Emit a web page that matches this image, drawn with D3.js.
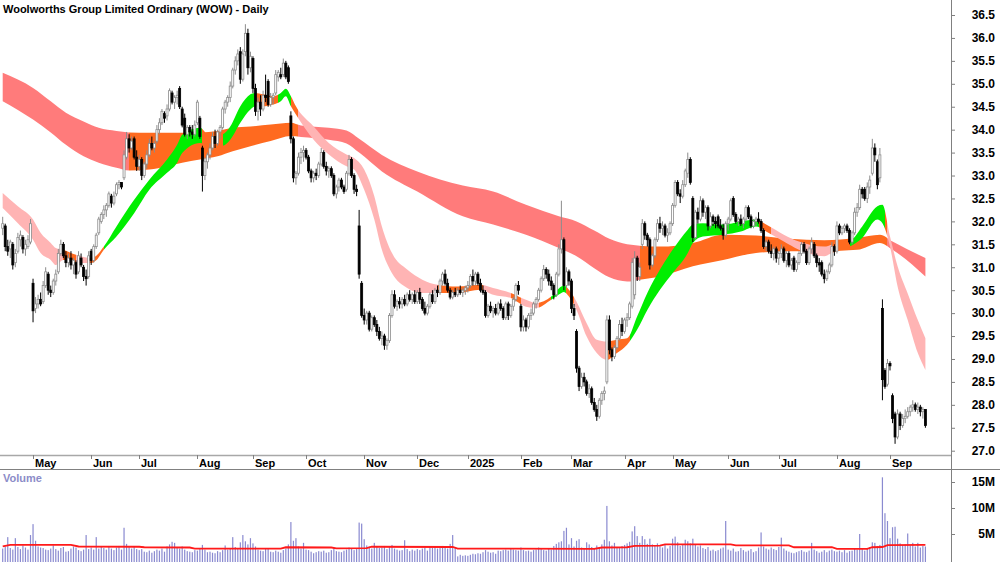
<!DOCTYPE html>
<html lang="en">
<head>
    <meta charset="UTF-8">
    <title>WOW Daily</title>
    <script src="https://d3js.org/d3.v7.min.js"></script>
    <style>
        body { margin: 0; background: #fff; }
        svg { display: block; font-family: "Liberation Sans", Arial, sans-serif; }
    </style>
    <script>
        // calendar of trading days shown
        const FIRST_DAY = "2024-04-12";
        const LAST_DAY = "2025-09-19";
        const HOLIDAYS = ["2024-04-25", "2024-06-10", "2024-12-25", "2024-12-26", "2025-01-01",
            "2025-01-27", "2025-04-18", "2025-04-21", "2025-04-25", "2025-06-09"];

        const MONTH_KEYS = ["2024-05", "2024-06", "2024-07", "2024-08", "2024-09", "2024-10", "2024-11", "2024-12",
            "2025-01", "2025-02", "2025-03", "2025-04", "2025-05", "2025-06", "2025-07", "2025-08", "2025-09"];
        const MONTH_LABELS = ["May", "Jun", "Jul", "Aug", "Sep", "Oct", "Nov", "Dec",
            "2025", "Feb", "Mar", "Apr", "May", "Jun", "Jul", "Aug", "Sep"];

        const PRICE_TICKS = [27.0, 27.5, 28.0, 28.5, 29.0, 29.5, 30.0, 30.5, 31.0, 31.5, 32.0, 32.5,
            33.0, 33.5, 34.0, 34.5, 35.0, 35.5, 36.0, 36.5];
        const VOL_TICKS = [5, 10, 15];
        const VOL_TICK_LABELS = ["5M", "10M", "15M"];

        // daily open, high, low, close
        const OHLC = [
            // Apr 2024
            [31.85,32.1,31.7,31.95],[31.9,31.95,31.35,31.45],[31.45,31.6,31.25,31.35],[31.4,31.6,31.2,31.55],[31.5,31.55,30.95,31.05],[31.1,31.4,31.0,31.3],[31.35,31.75,31.3,31.65],[31.6,31.8,31.45,31.7],[31.65,31.7,31.3,31.4],[31.4,31.6,31.25,31.5],[31.45,31.7,31.4,31.6],[31.55,32.05,31.5,31.95],
            // May
            [30.65,30.75,29.8,30.05],[30.1,30.35,30.0,30.2],[30.2,30.4,30.1,30.3],[30.3,30.45,30.15,30.2],[30.25,30.7,30.2,30.6],[30.6,31.0,30.55,30.9],[30.85,30.9,30.4,30.5],[30.5,30.6,30.35,30.45],[30.45,30.75,30.4,30.7],[30.7,30.95,30.6,30.85],[30.9,31.4,30.85,31.3],[31.3,31.6,31.25,31.5],[31.5,31.55,31.2,31.25],[31.25,31.35,31.0,31.1],[31.1,31.3,31.0,31.2],[31.2,31.35,30.95,31.05],[31.05,31.2,30.85,31.15],[31.1,31.15,30.75,30.85],[30.9,31.35,30.85,31.25],[31.2,31.3,31.0,31.05],[31.0,31.05,30.7,30.8],[30.8,30.95,30.6,30.75],[30.8,31.35,30.75,31.25],
            // Jun
            [31.35,31.4,31.05,31.15],[31.15,31.5,31.1,31.45],[31.45,31.75,31.4,31.7],[31.75,32.1,31.7,32.05],[32.0,32.2,31.95,32.15],[32.15,32.35,32.05,32.25],[32.25,32.4,32.1,32.35],[32.35,32.65,32.3,32.6],[32.55,32.6,32.3,32.4],[32.4,32.65,32.35,32.55],[32.6,32.85,32.55,32.8],[32.8,32.9,32.7,32.85],[32.85,32.85,32.7,32.75],[32.95,33.55,32.9,33.45],[33.4,33.95,33.35,33.8],[33.8,33.9,33.5,33.6],[33.6,33.85,33.55,33.75],[33.8,33.85,33.35,33.4],[33.4,33.55,33.1,33.2],
            // Jul
            [33.2,33.45,33.1,33.35],[33.35,33.4,32.9,33.0],[33.0,33.3,32.95,33.25],[33.25,33.55,33.15,33.45],[33.45,33.8,33.4,33.7],[33.7,33.85,33.55,33.6],[33.6,33.75,33.5,33.7],[33.75,34.1,33.7,34.0],[34.0,34.25,33.9,34.15],[34.15,34.45,34.1,34.4],[34.35,34.4,34.15,34.25],[34.3,34.55,34.2,34.45],[34.45,34.9,34.4,34.85],[34.8,34.85,34.55,34.6],[34.6,34.75,34.45,34.7],[34.7,34.85,34.55,34.75],[34.9,34.95,34.45,34.5],[34.45,34.5,34.05,34.1],[34.25,34.35,33.85,33.9],[33.9,34.1,33.8,34.05],[34.05,34.1,33.85,33.95],[33.95,34.1,33.8,33.9],[33.9,34.2,33.85,34.1],
            // Aug
            [34.15,34.65,34.1,34.6],[34.25,34.3,33.8,33.85],[33.6,33.65,32.65,33.0],[33.0,33.4,32.9,33.3],[33.3,33.5,33.15,33.45],[33.45,33.7,33.35,33.6],[33.6,33.95,33.55,33.85],[33.85,34.0,33.6,33.7],[33.7,34.0,33.65,33.95],[33.95,34.1,33.8,34.05],[34.05,34.5,34.0,34.45],[34.45,34.65,34.35,34.6],[34.6,34.75,34.5,34.7],[34.7,35.05,34.6,34.95],[34.95,35.35,34.9,35.3],[35.3,35.6,35.2,35.5],[35.5,35.75,35.4,35.65],[35.7,35.8,35.0,35.1],[35.1,35.75,35.05,35.65],[35.7,36.3,35.6,36.1],[36.1,36.2,35.2,35.35],[35.35,35.7,35.25,35.6],
            // Sep
            [35.55,35.6,34.8,34.9],[34.9,35.0,34.3,34.4],[34.4,34.7,34.2,34.6],[34.6,34.75,34.3,34.45],[34.45,34.85,34.4,34.75],[34.75,35.2,34.6,34.7],[35.05,35.1,34.5,34.55],[34.55,34.8,34.5,34.7],[34.7,34.8,34.55,34.75],[34.8,35.3,34.75,35.2],[35.15,35.3,35.05,35.25],[35.2,35.35,35.1,35.15],[35.2,35.55,35.15,35.45],[35.45,35.5,35.1,35.15],[35.35,35.4,35.0,35.05],[34.3,34.4,33.7,33.8],[33.8,33.85,32.85,32.95],[32.95,33.1,32.8,33.05],[33.05,33.5,33.0,33.4],[33.4,33.6,33.25,33.5],[33.5,33.65,33.3,33.55],
            // Oct
            [33.55,33.6,33.35,33.4],[33.4,33.45,33.05,33.1],[33.1,33.15,32.85,32.95],[32.95,33.1,32.85,33.05],[33.05,33.15,32.9,33.0],[33.0,33.3,32.95,33.25],[33.25,33.6,33.2,33.5],[33.5,33.55,33.15,33.2],[33.2,33.3,33.0,33.1],[33.1,33.2,32.95,33.15],[33.15,33.2,32.95,33.0],[33.0,33.05,32.55,32.6],[32.6,32.8,32.5,32.75],[32.75,32.95,32.65,32.9],[32.9,32.95,32.7,32.75],[32.75,32.8,32.6,32.65],[32.7,33.1,32.65,33.05],[33.05,33.45,33.0,33.35],[33.35,33.4,32.95,33.0],[33.0,33.05,32.6,32.7],[32.7,32.8,32.55,32.65],[31.9,32.25,30.75,30.85],[30.65,30.7,29.9,29.95],
            // Nov
            [29.95,30.1,29.75,29.85],[29.85,30.05,29.75,30.0],[30.0,30.05,29.6,29.65],[29.65,29.95,29.6,29.9],[29.9,29.95,29.7,29.75],[29.75,29.85,29.5,29.6],[29.6,29.7,29.4,29.45],[29.45,29.6,29.3,29.5],[29.5,29.55,29.2,29.3],[29.3,29.45,29.2,29.4],[29.4,30.0,29.35,29.95],[29.95,30.5,29.9,30.4],[30.4,30.5,30.1,30.15],[30.15,30.3,30.05,30.25],[30.25,30.35,30.1,30.2],[30.2,30.35,30.1,30.3],[30.3,30.4,30.15,30.2],[30.2,30.45,30.15,30.4],[30.4,30.5,30.25,30.3],[30.3,30.45,30.2,30.4],[30.4,30.5,30.2,30.25],
            // Dec
            [30.25,30.5,30.2,30.45],[30.45,30.55,30.2,30.3],[30.3,30.35,30.05,30.1],[30.1,30.25,29.95,30.0],[30.0,30.2,29.95,30.15],[30.15,30.45,30.1,30.4],[30.4,30.5,30.2,30.25],[30.25,30.55,30.2,30.5],[30.5,30.6,30.35,30.45],[30.45,30.75,30.4,30.7],[30.7,30.9,30.6,30.85],[30.85,30.95,30.6,30.65],[30.65,30.75,30.45,30.5],[30.5,30.55,30.3,30.35],[30.35,30.5,30.3,30.45],[30.45,30.55,30.35,30.4],[30.4,30.55,30.35,30.5],[30.5,30.6,30.4,30.45],[30.45,30.55,30.35,30.5],[30.5,30.6,30.4,30.55],
            // Jan 2025
            [30.55,30.7,30.45,30.6],[30.6,30.85,30.55,30.8],[30.8,30.95,30.6,30.7],[30.7,30.9,30.6,30.85],[30.85,30.9,30.6,30.65],[30.65,30.75,30.45,30.5],[30.5,30.6,30.4,30.45],[30.45,30.5,29.9,29.95],[29.95,30.2,29.9,30.15],[30.15,30.25,30.0,30.05],[30.05,30.15,29.9,30.1],[30.1,30.2,29.95,30.0],[30.0,30.25,29.95,30.2],[30.2,30.3,30.05,30.1],[30.1,30.15,29.85,29.9],[29.9,30.25,29.85,30.2],[30.2,30.25,29.85,29.95],[29.95,30.2,29.9,30.15],[30.15,30.35,30.05,30.3],[30.3,30.65,30.25,30.6],[30.6,30.7,30.4,30.5],
            // Feb
            [30.15,30.2,29.6,29.7],[29.7,29.95,29.6,29.85],[29.85,29.9,29.6,29.7],[29.7,30.0,29.65,29.95],[29.95,30.1,29.85,30.0],[30.0,30.25,29.95,30.2],[30.2,30.35,30.1,30.3],[30.3,30.55,30.25,30.5],[30.5,30.8,30.45,30.75],[30.75,31.05,30.7,30.95],[30.95,31.0,30.75,30.85],[30.85,30.95,30.6,30.7],[30.7,30.8,30.5,30.6],[30.6,30.65,30.3,30.4],[30.4,30.9,30.35,30.85],[30.85,31.5,30.8,31.4],[31.4,32.45,31.3,31.6],[31.6,31.65,30.5,30.6],[30.6,31.0,30.55,30.9],[30.9,30.95,30.6,30.7],
            // Mar
            [30.7,30.75,30.0,30.1],[30.1,30.2,29.85,29.95],[29.6,29.65,28.7,28.8],[28.8,28.85,28.3,28.4],[28.4,28.7,28.35,28.6],[28.6,28.7,28.4,28.5],[28.5,28.55,28.2,28.25],[28.25,28.45,28.15,28.35],[28.35,28.4,28.0,28.05],[28.05,28.15,27.85,27.9],[27.9,28.0,27.65,27.75],[27.75,28.15,27.7,28.1],[28.1,28.3,28.0,28.25],[28.25,28.4,28.1,28.3],[28.5,29.95,28.45,29.85],[29.85,29.95,29.1,29.2],[29.2,29.25,28.95,29.05],[29.05,29.3,29.0,29.25],[29.25,29.5,29.2,29.45],[29.45,29.85,29.4,29.75],[29.75,29.9,29.5,29.6],
            // Apr
            [29.6,29.9,29.55,29.85],[29.85,30.0,29.7,29.9],[29.9,30.25,29.85,30.2],[30.15,31.2,30.1,31.1],[30.4,31.35,30.3,31.2],[31.2,31.25,30.7,30.8],[30.8,31.1,30.7,31.0],[31.5,32.05,31.4,31.95],[31.95,32.0,31.6,31.7],[31.7,31.75,31.45,31.6],[31.6,31.65,30.95,31.05],[31.05,31.3,31.0,31.25],[31.25,31.65,31.2,31.6],[31.6,32.05,31.55,31.95],[31.95,32.1,31.75,31.85],[31.85,32.0,31.7,31.9],[31.9,31.95,31.65,31.7],[31.7,31.85,31.55,31.75],[31.75,32.0,31.7,31.95],
            // May
            [31.95,32.4,31.9,32.35],[32.35,32.9,32.3,32.85],[32.85,32.9,32.55,32.6],[32.6,32.7,32.4,32.55],[32.55,32.9,32.5,32.8],[32.8,33.15,32.75,33.1],[33.05,33.5,32.95,33.35],[33.35,33.4,32.8,32.85],[32.5,32.55,31.55,31.65],[31.65,32.25,31.6,32.2],[32.2,32.3,31.95,32.05],[32.05,32.55,32.0,32.45],[32.45,32.5,32.1,32.2],[32.2,32.35,32.05,32.3],[32.3,32.35,31.8,31.9],[31.9,32.2,31.85,32.1],[32.1,32.15,31.9,32.0],[32.0,32.1,31.85,31.95],[32.1,32.15,31.85,31.9],[31.9,32.05,31.8,31.85],[31.85,31.95,31.6,31.7],[31.7,32.0,31.65,31.95],
            // Jun
            [31.95,32.1,31.8,32.05],[32.05,32.5,32.0,32.45],[32.5,32.55,32.1,32.15],[32.15,32.2,31.95,32.0],[32.0,32.1,31.9,32.05],[32.05,32.15,31.9,31.95],[31.95,32.1,31.85,32.05],[32.05,32.35,32.0,32.3],[32.3,32.35,32.05,32.1],[32.1,32.15,31.85,31.9],[31.9,32.05,31.85,32.0],[32.0,32.1,31.9,32.05],[32.05,32.2,31.95,32.0],[32.0,32.05,31.75,31.8],[31.8,31.85,31.4,31.45],[31.45,31.6,31.35,31.55],[31.55,31.6,31.3,31.35],[31.35,31.5,31.2,31.3],[31.3,31.45,31.15,31.4],[31.4,31.45,31.1,31.2],
            // Jul
            [31.2,31.35,31.05,31.3],[31.3,31.5,31.2,31.4],[31.4,31.45,31.1,31.15],[31.15,31.35,31.0,31.3],[31.3,31.35,31.0,31.05],[31.05,31.2,30.95,31.15],[31.2,31.25,30.9,30.95],[30.95,31.15,30.9,31.1],[31.1,31.35,31.05,31.3],[31.3,31.55,31.25,31.5],[31.5,31.55,31.3,31.35],[31.35,31.4,31.05,31.1],[31.1,31.45,31.05,31.4],[31.4,31.65,31.3,31.55],[31.5,31.55,31.2,31.25],[31.25,31.3,31.0,31.1],[31.1,31.2,30.9,31.05],[31.1,31.15,30.8,30.85],[30.85,30.95,30.65,30.75],[30.75,30.95,30.7,30.9],[30.9,31.1,30.85,31.05],[31.05,31.55,31.0,31.45],[31.45,31.5,31.25,31.35],
            // Aug
            [31.35,32.0,31.3,31.9],[31.9,31.95,31.7,31.75],[31.75,31.9,31.7,31.85],[31.85,31.95,31.75,31.9],[31.9,31.95,31.75,31.8],[31.8,31.85,31.5,31.55],[31.55,31.8,31.5,31.75],[31.75,32.3,31.7,32.2],[32.2,32.4,32.1,32.3],[32.3,32.8,32.25,32.7],[32.7,32.75,32.5,32.6],[32.7,32.75,32.45,32.5],[32.5,32.85,32.4,32.75],[32.75,33.0,32.6,32.9],[33.05,33.8,33.0,33.6],[33.6,33.7,33.3,33.45],[33.3,33.35,32.7,32.8],[32.95,33.6,32.85,33.45],[30.1,30.3,28.1,28.55],[28.75,28.8,28.35,28.4],[28.45,29.0,28.4,28.9],
            // Sep
            [28.9,28.95,28.75,28.85],[28.2,28.25,27.6,27.7],[27.8,27.85,27.15,27.3],[27.3,27.9,27.25,27.8],[27.8,27.85,27.45,27.55],[27.55,27.8,27.5,27.7],[27.7,27.9,27.6,27.75],[27.75,27.95,27.7,27.85],[27.85,28.0,27.75,27.95],[27.95,28.1,27.85,28.0],[28.0,28.05,27.85,27.9],[27.9,28.05,27.8,27.95],[27.95,28.0,27.75,27.85],[27.85,27.95,27.7,27.9],[27.9,27.9,27.5,27.55]
        ];

        // daily volume, millions
        const VOLUME = [
            2.2,2.6,4.4,2.3,2.0,4.2,2.5,2.1,2.8,2.4,2.0,4.8,
            6.9,3.7,2.6,2.4,2.3,2.0,1.9,2.2,2.8,2.1,1.8,2.3,2.5,1.6,1.7,2.2,2.6,2.4,1.9,1.7,2.0,4.8,2.1,
            2.4,2.0,4.4,2.2,2.5,2.3,2.0,2.6,2.2,1.9,2.4,2.7,2.0,6.2,3.1,2.6,2.2,2.5,2.1,
            1.9,2.1,1.6,1.5,1.8,1.4,1.7,2.0,1.8,2.2,1.6,2.6,3.0,3.5,3.3,2.4,2.2,2.6,2.0,1.7,1.6,1.5,1.9,
            1.8,2.2,2.9,2.0,1.5,1.6,1.4,1.3,1.7,1.5,1.9,2.8,2.0,2.3,4.4,2.5,2.2,3.4,4.8,3.6,3.0,4.2,
            3.2,2.6,2.0,1.8,1.7,2.1,2.3,1.6,1.5,1.8,1.6,1.4,1.9,2.2,3.0,7.3,3.7,4.2,2.6,2.2,3.3,
            2.0,1.9,1.6,1.3,1.5,1.7,1.6,1.8,1.4,1.5,1.9,2.3,1.7,1.6,1.5,1.8,2.0,2.4,2.2,1.9,2.1,7.2,7.0,
            4.0,2.8,2.6,2.2,3.3,2.5,2.3,2.4,2.7,2.1,2.6,2.9,2.2,2.0,1.8,1.9,3.8,2.1,1.7,2.0,1.8,
            2.1,1.9,2.2,2.4,1.8,2.5,2.3,2.6,2.2,2.4,2.7,2.5,2.2,3.1,4.8,2.4,0.7,1.0,0.8,0.9,
            0.8,1.0,1.2,1.1,1.3,1.2,1.5,1.9,1.6,1.4,1.5,1.2,1.8,1.7,1.9,2.0,1.8,2.1,2.0,1.9,1.8,
            2.4,1.9,1.7,1.8,1.6,1.9,2.0,2.4,2.1,1.9,1.8,2.3,2.0,2.7,3.1,3.4,3.6,5.6,6.2,3.0,
            4.2,2.6,3.7,4.0,2.4,2.2,3.4,3.0,2.5,2.3,2.8,2.4,3.0,3.9,10.4,3.6,2.8,3.3,2.5,2.3,2.7,
            2.9,3.2,3.5,5.5,6.5,4.6,3.3,4.6,4.0,3.1,4.1,3.0,2.8,3.2,2.6,2.4,2.9,2.2,2.7,
            4.1,4.5,3.4,2.7,3.0,3.9,3.6,3.2,4.1,3.0,2.6,2.8,2.3,2.1,2.5,1.8,2.0,1.7,1.9,2.2,2.4,7.5,
            2.0,1.8,2.2,1.6,1.7,2.3,1.9,1.6,1.8,2.1,1.5,1.7,2.4,5.3,2.6,2.2,2.0,2.4,2.1,1.9,
            2.5,4.3,2.2,1.8,1.6,1.4,1.3,1.5,1.7,1.9,1.6,1.5,1.8,3.3,2.0,1.7,1.4,1.6,1.9,1.5,1.8,2.0,1.7,
            1.6,1.8,1.5,1.9,1.4,1.7,1.8,2.2,2.0,5.0,2.1,1.8,2.3,2.5,3.4,3.3,2.7,2.9,15.9,9.0,7.5,
            4.2,6.3,6.4,4.1,3.2,2.9,3.0,5.1,2.8,3.3,2.6,3.3,2.4,2.7,2.6
        ];

        // volume average line, read at bar positions
        const VOL_AVG_BAR = [0, 3, 27, 30, 54, 56, 74, 76, 110, 112, 130, 132, 144, 146, 178, 180, 234, 237,
            247, 250, 260, 262, 288, 290, 311, 313, 328, 330, 342, 344, 348, 350, 365];
        const VOL_AVG = [2.6, 2.9, 2.9, 2.6, 2.55, 2.45, 2.4, 2.2, 2.2, 2.45, 2.4, 2.25, 2.3, 2.55, 2.5, 2.2, 2.15, 2.4,
            2.45, 2.7, 2.75, 3.0, 3.0, 2.8, 2.8, 2.45, 2.45, 2.15, 2.15, 2.45, 2.5, 2.85, 2.9];

        // long-term moving average band, edges read at bar positions
        const LONG_BAR = [0, 12, 19, 25, 32, 38, 45, 50, 58, 65, 71, 78, 85, 91, 98, 106, 114, 118, 129, 136,
            141, 150, 164, 182, 194, 207, 220, 227, 234, 240, 247, 252, 260, 273, 285, 298, 311, 325, 338, 347, 352, 365];
        const LONG_HI = [35.24, 34.91, 34.62, 34.37, 34.18, 34.04, 33.97, 33.94, 33.93, 33.93, 33.93, 33.94, 33.97, 34.04, 34.07, 34.11, 34.15, 34.09, 34.04, 33.98,
            33.8, 33.45, 33.09, 32.78, 32.65, 32.36, 32.11, 32.0, 31.8, 31.62, 31.5, 31.47, 31.45, 31.53, 31.71, 31.69, 31.62, 31.59, 31.64, 31.71, 31.56, 31.2];
        const LONG_LO = [34.62, 34.22, 33.94, 33.67, 33.42, 33.28, 33.17, 33.11, 33.13, 33.2, 33.28, 33.35, 33.42, 33.53, 33.64, 33.75, 33.86, 33.84, 33.78, 33.7,
            33.5, 33.09, 32.65, 32.11, 31.93, 31.71, 31.42, 31.24, 30.98, 30.78, 30.69, 30.73, 30.8, 31.02, 31.16, 31.31, 31.35, 31.35, 31.38, 31.53, 31.38, 30.8];
        const LONG_STATE_FROM = [0, 50, 117, 252, 350];
        const LONG_STATE = ["down", "mixed", "down", "mixed", "down"];

        // short-term moving average band
        const SHORT_BAR = [0, 6, 12, 15, 19, 21, 24, 27, 29, 35, 37, 40, 45, 52, 58, 65, 69, 71, 78, 82,
            87, 90, 94, 98, 100, 103, 107, 110, 112, 114, 116, 123, 129, 136, 139, 143, 147, 150, 154, 160,
            166, 172, 180, 189, 194, 201, 207, 211, 217, 221, 222, 224, 227, 231, 235, 239, 243, 247, 251, 255,
            260, 265, 271, 273, 277, 285, 292, 298, 302, 309, 315, 325, 328, 335, 340, 346, 348, 351, 354, 358, 362, 365];
        const SHORT_HI = [32.62, 32.33, 32.04, 31.75, 31.53, 31.42, 31.38, 31.31, 31.27, 31.2, 31.25, 31.45, 31.89, 32.47, 32.91, 33.35, 33.67, 33.89, 34.04, 33.85,
            33.9, 34.07, 34.51, 34.77, 34.8, 34.77, 34.73, 34.8, 34.89, 34.73, 34.51, 34.07, 33.71, 33.46, 33.38, 33.13, 32.55, 31.89, 31.31, 30.95,
            30.73, 30.62, 30.58, 30.62, 30.55, 30.44, 30.29, 30.22, 30.36, 30.58, 30.6, 30.51, 30.25, 29.78, 29.42, 29.38, 29.42, 29.45, 29.93, 30.44,
            30.95, 31.38, 31.82, 31.93, 31.96, 31.93, 32.0, 32.04, 31.93, 31.71, 31.56, 31.45, 31.49, 31.56, 31.89, 32.33, 32.36, 31.67, 31.02, 30.43, 29.85, 29.45];
        const SHORT_LO = [32.29, 31.96, 31.6, 31.31, 31.16, 31.05, 31.16, 31.16, 31.09, 31.09, 31.15, 31.38, 31.67, 32.18, 32.69, 33.06, 33.28, 33.49, 33.71, 33.68,
            33.65, 33.78, 34.15, 34.44, 34.51, 34.51, 34.55, 34.62, 34.73, 34.51, 34.33, 33.78, 33.46, 33.2, 33.13, 32.69, 32.04, 31.38, 30.87, 30.55,
            30.44, 30.44, 30.44, 30.51, 30.4, 30.33, 30.14, 30.11, 30.29, 30.44, 30.46, 30.36, 30.07, 29.49, 29.13, 28.98, 29.13, 29.31, 29.64, 30.07,
            30.51, 30.87, 31.31, 31.53, 31.67, 31.71, 31.78, 31.89, 31.78, 31.56, 31.38, 31.24, 31.31, 31.45, 31.64, 32.04, 31.96, 31.45, 30.58, 29.85, 29.13, 28.76];
        const SHORT_STATE_FROM = [0, 24, 29, 34, 40, 79, 87, 100, 109, 114, 117, 172, 190, 201, 205, 212, 217, 223, 226,
            239, 248, 299, 304, 328, 335, 349, 350];
        const SHORT_STATE = ["down", "mixed", "down", "mixed", "up", "mixed", "up", "mixed", "up", "mixed", "down", "mixed", "down", "mixed", "down", "mixed", "up", "mixed", "down",
            "mixed", "up", "mixed", "down", "mixed", "up", "mixed", "down"];

        document.addEventListener("DOMContentLoaded", function() {
            drawChart();
        });

        function drawChart() {
            const width = 1000, height = 562;
            const axisX = 951;
            const svg = d3.select("#chart").attr("width", width).attr("height", height);

            const ymd = d3.utcFormat("%Y-%m-%d");
            const parse = d3.utcParse("%Y-%m-%d");
            const dates = d3.utcDay.range(parse(FIRST_DAY), d3.utcDay.offset(parse(LAST_DAY), 1))
                .filter(d => d.getUTCDay() % 6 !== 0 && !HOLIDAYS.includes(ymd(d)));

            const x = d3.scaleLinear().domain([0, dates.length - 1]).range([2.7, 925.4]);
            const y = d3.scaleLinear().domain([27, 36.5]).range([450.7, 15]);
            const yv = d3.scaleLinear().domain([0, 15]).range([560, 482]);

            const stateColor = {
                long: {down: "#ff7b7b", mixed: "#ff6a1f", up: "#00ee00"},
                short: {down: "#ffb4b4", mixed: "#ff6a1f", up: "#00ee00"}
            };

            const defs = svg.append("defs");

            function drawBand(name, bars, hi, lo, from, states) {
                const grad = defs.append("linearGradient")
                    .attr("id", "grad-" + name)
                    .attr("gradientUnits", "userSpaceOnUse")
                    .attr("x1", 0).attr("x2", width).attr("y1", 0).attr("y2", 0);
                from.forEach((start, k) => {
                    const end = k + 1 < from.length ? from[k + 1] : dates.length - 1;
                    const col = stateColor[name][states[k]];
                    grad.append("stop").attr("offset", x(start) / width).attr("stop-color", col);
                    grad.append("stop").attr("offset", x(end) / width).attr("stop-color", col);
                });

                const pts = bars.map((b, k) => ({i: b, hi: hi[k], lo: lo[k]}));
                const area = d3.area()
                    .x(d => x(d.i))
                    .y0(d => y(d.lo))
                    .y1(d => y(d.hi))
                    .curve(d3.curveMonotoneX);

                svg.append("path")
                    .datum(pts)
                    .attr("d", area)
                    .attr("fill", "url(#grad-" + name + ")");
            }

            drawBand("long", LONG_BAR, LONG_HI, LONG_LO, LONG_STATE_FROM, LONG_STATE);
            drawBand("short", SHORT_BAR, SHORT_HI, SHORT_LO, SHORT_STATE_FROM, SHORT_STATE);

            // candles
            const candles = svg.append("g")
                .selectAll("g")
                .data(OHLC)
                .enter()
                .append("g");

            candles.append("line")
                .attr("x1", (d, i) => x(i))
                .attr("x2", (d, i) => x(i))
                .attr("y1", d => y(d[1]))
                .attr("y2", d => y(d[2]))
                .attr("stroke", d => d[3] >= d[0] ? "#8c8c8c" : "#000")
                .attr("stroke-width", 1);

            candles.append("rect")
                .attr("x", (d, i) => x(i) - 1)
                .attr("width", 2)
                .attr("y", d => y(Math.max(d[0], d[3])))
                .attr("height", d => Math.max(1, y(Math.min(d[0], d[3])) - y(Math.max(d[0], d[3]))))
                .attr("fill", d => d[3] >= d[0] ? "#fff" : "#000")
                .attr("stroke", d => d[3] >= d[0] ? "#8c8c8c" : "#000")
                .attr("stroke-width", 0.8);

            // volume pane
            svg.append("g")
                .selectAll("rect")
                .data(VOLUME)
                .enter()
                .append("rect")
                .attr("x", (d, i) => x(i) - 0.6)
                .attr("width", 1.2)
                .attr("y", d => yv(d))
                .attr("height", d => yv(0) - yv(d) + 5)
                .attr("fill", "#8a8ad0");

            const volLine = d3.line()
                .x(d => x(d[0]))
                .y(d => yv(d[1]));
            svg.append("path")
                .datum(VOL_AVG_BAR.map((b, k) => [b, VOL_AVG[k]]))
                .attr("d", volLine)
                .attr("fill", "none")
                .attr("stroke", "#ff1a1a")
                .attr("stroke-width", 1.8);

            svg.append("text")
                .attr("x", 3).attr("y", 482)
                .text("Volume")
                .style("font-size", "11px")
                .style("font-weight", "bold")
                .attr("fill", "#8c8cc8");

            // date strip
            svg.append("line")
                .attr("x1", 0).attr("x2", axisX).attr("y1", 455.5).attr("y2", 455.5)
                .attr("stroke", "#a8a8a8").attr("stroke-width", 1.5);
            svg.append("line")
                .attr("x1", 0).attr("x2", width).attr("y1", 469.5).attr("y2", 469.5)
                .attr("stroke", "#808080").attr("stroke-width", 1);

            const monthIdx = MONTH_KEYS.map(k => dates.findIndex(d => ymd(d).startsWith(k)));
            const monthG = svg.append("g")
                .selectAll("g")
                .data(monthIdx)
                .enter()
                .append("g")
                .attr("transform", d => "translate(" + Math.round(x(d)) + ",0)");
            monthG.append("line")
                .attr("x1", 0.5).attr("x2", 0.5).attr("y1", 455).attr("y2", 459)
                .attr("stroke", "#808080");
            monthG.append("text")
                .attr("x", 2).attr("y", 467)
                .text((d, k) => MONTH_LABELS[k])
                .style("font-size", "11px")
                .style("font-weight", "bold");

            // right axis
            svg.append("line")
                .attr("x1", axisX + 0.5).attr("x2", axisX + 0.5).attr("y1", 0).attr("y2", height)
                .attr("stroke", "#808080");

            const yAxis = d3.axisRight(y)
                .tickValues(PRICE_TICKS)
                .tickFormat(d3.format(".1f"))
                .tickSize(3)
                .tickPadding(24);
            const yAxisG = svg.append("g")
                .attr("transform", "translate(" + (axisX + 1) + ",0)")
                .call(yAxis);

            const vAxis = d3.axisRight(yv)
                .tickValues(VOL_TICKS)
                .tickFormat((d, k) => VOL_TICK_LABELS[k])
                .tickSize(3)
                .tickPadding(24);
            const vAxisG = svg.append("g")
                .attr("transform", "translate(" + (axisX + 1) + ",0)")
                .call(vAxis);

            [yAxisG, vAxisG].forEach(g => {
                g.select(".domain").remove();
                g.selectAll(".tick line").attr("stroke", "#808080");
                g.selectAll(".tick text")
                    .attr("text-anchor", "end")
                    .attr("x", 43)
                    .style("font-size", "12px")
                    .style("font-weight", "bold")
                    .style("font-family", "'Liberation Sans', Arial, sans-serif")
                    .attr("fill", "#000");
            });

            svg.append("text")
                .attr("x", 3).attr("y", 13)
                .text("Woolworths Group Limited Ordinary (WOW) - Daily")
                .style("font-size", "11px")
                .style("font-weight", "bold");
        }
    </script>
</head>
<body>
    <svg id="chart"></svg>
</body>
</html>
